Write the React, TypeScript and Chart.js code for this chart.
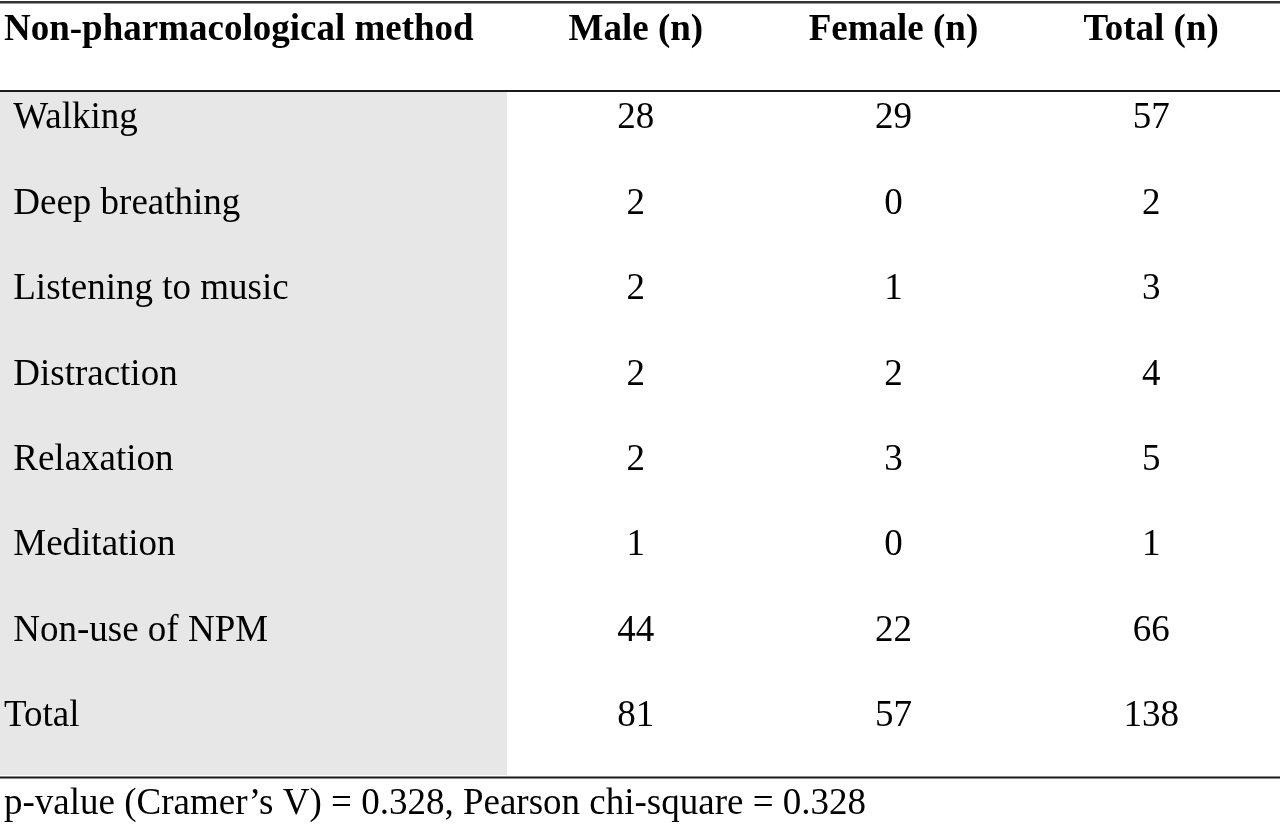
import { useEffect, useRef } from "react";
import { Chart, registerables, type ChartConfiguration, type Plugin } from "chart.js";

Chart.register(...registerables);

const methods = [
  "Walking",
  "Deep breathing",
  "Listening to music",
  "Distraction",
  "Relaxation",
  "Meditation",
  "Non-use of NPM",
];
const totalRowLabel = "Total";
const rowLabels = [...methods, totalRowLabel];

const headerLabel = "Non-pharmacological method";
const columnLabels = ["Male (n)", "Female (n)", "Total (n)"];

const maleCounts = [28, 2, 2, 2, 2, 1, 44, 81];
const femaleCounts = [29, 0, 1, 2, 3, 0, 22, 57];
const totalCounts = [57, 2, 3, 4, 5, 1, 66, 138];

const footnote = "p-value (Cramer\u2019s V) = 0.328, Pearson chi-square = 0.328";

const SERIF = "'Liberation Serif', 'Times New Roman', serif";
const FONT_SIZE = 37;
const TEXT_LIFT = -16; // text sits near the top of each row band

// header text at the top-left corner, above the row labels
const cornerHeader: Plugin<"scatter"> = {
  id: "cornerHeader",
  afterDraw(chart) {
    const { ctx } = chart;
    const yScale = chart.scales.y;
    ctx.save();
    ctx.font = `bold ${FONT_SIZE}px ${SERIF}`;
    ctx.fillStyle = "#000";
    ctx.textAlign = "left";
    ctx.textBaseline = "middle";
    ctx.fillText(headerLabel, yScale.left, 30);
    ctx.restore();
  },
};

// grey label column and the horizontal rules of the table
const tableRules: Plugin<"scatter"> = {
  id: "tableRules",
  beforeDraw(chart) {
    const { ctx, chartArea } = chart;
    const yScale = chart.scales.y;
    ctx.save();
    ctx.fillStyle = "#e7e7e7";
    ctx.fillRect(0, chartArea.top, yScale.right, chartArea.bottom - chartArea.top);
    ctx.restore();
  },
  afterDraw(chart) {
    const { ctx, chartArea, width } = chart;
    ctx.save();
    ctx.fillStyle = "#333";
    ctx.fillRect(0, 1, width, 2.5);
    ctx.fillStyle = "#1a1a1a";
    ctx.fillRect(0, chartArea.top - 2, width, 2);
    ctx.fillRect(0, chartArea.bottom + 1.5, width, 2);
    ctx.restore();
  },
};

// cell values written at each point position
const cellText: Plugin<"scatter"> = {
  id: "cellText",
  afterDatasetsDraw(chart) {
    const { ctx } = chart;
    ctx.save();
    ctx.font = `${FONT_SIZE}px ${SERIF}`;
    ctx.fillStyle = "#000";
    ctx.textAlign = "center";
    ctx.textBaseline = "middle";
    chart.data.datasets.forEach((ds, di) => {
      const meta = chart.getDatasetMeta(di);
      const values = (ds as any).values as number[];
      meta.data.forEach((el, i) => {
        ctx.fillText(String(values[i]), el.x, el.y + TEXT_LIFT);
      });
    });
    ctx.restore();
  },
};

export default function App() {
  const canvasRef = useRef<HTMLCanvasElement | null>(null);

  useEffect(() => {
    document.body.style.margin = "0";
    const canvas = canvasRef.current;
    if (!canvas) return;

    const columns = [maleCounts, femaleCounts, totalCounts];

    const config: ChartConfiguration<"scatter"> = {
      type: "scatter",
      data: {
        datasets: columns.map((values, ci) => ({
          label: columnLabels[ci],
          data: rowLabels.map((row) => ({ x: columnLabels[ci], y: row })) as any,
          values,
          pointRadius: 0,
          pointHoverRadius: 0,
        })) as any,
      },
      options: {
        responsive: true,
        maintainAspectRatio: false,
        animation: false,
        events: [],
        layout: { padding: { left: 4, right: 0, top: 0, bottom: 0 } },
        plugins: {
          legend: { display: false },
          tooltip: { enabled: false },
          title: {
            display: true,
            text: footnote,
            position: "bottom",
            align: "start",
            color: "#000",
            font: { size: FONT_SIZE, family: SERIF, weight: "normal", lineHeight: 1.1 },
            padding: { top: 9.3, bottom: 0 },
          },
        },
        scales: {
          x: {
            type: "category",
            position: "top",
            labels: columnLabels,
            offset: true,
            grid: { display: false, drawTicks: false },
            border: { display: false },
            ticks: {
              color: "#000",
              font: { size: FONT_SIZE, family: SERIF, weight: "bold" },
              padding: 39,
              maxRotation: 0,
              autoSkip: false,
            },
            afterFit: (scale) => {
              scale.height = 92;
            },
          },
          y: {
            type: "category",
            labels: rowLabels,
            offset: true,
            grid: { display: false, drawTicks: false },
            border: { display: false },
            ticks: {
              color: "#000",
              font: { size: FONT_SIZE, family: SERIF },
              crossAlign: "far",
              labelOffset: TEXT_LIFT,
              autoSkip: false,
              callback: (_v, i) => (i < methods.length ? " " : "") + rowLabels[i],
            },
            afterFit: (scale) => {
              scale.width = 503;
            },
          },
        },
      },
      plugins: [tableRules, cellText, cornerHeader],
    };

    const chart = new Chart(canvas, config);
    return () => chart.destroy();
  }, []);

  return (
    <div style={{ position: "relative", width: 1280, height: 825, background: "#fff" }}>
      <canvas ref={canvasRef} role="img" aria-label="Non-pharmacological method use by sex" />
    </div>
  );
}
